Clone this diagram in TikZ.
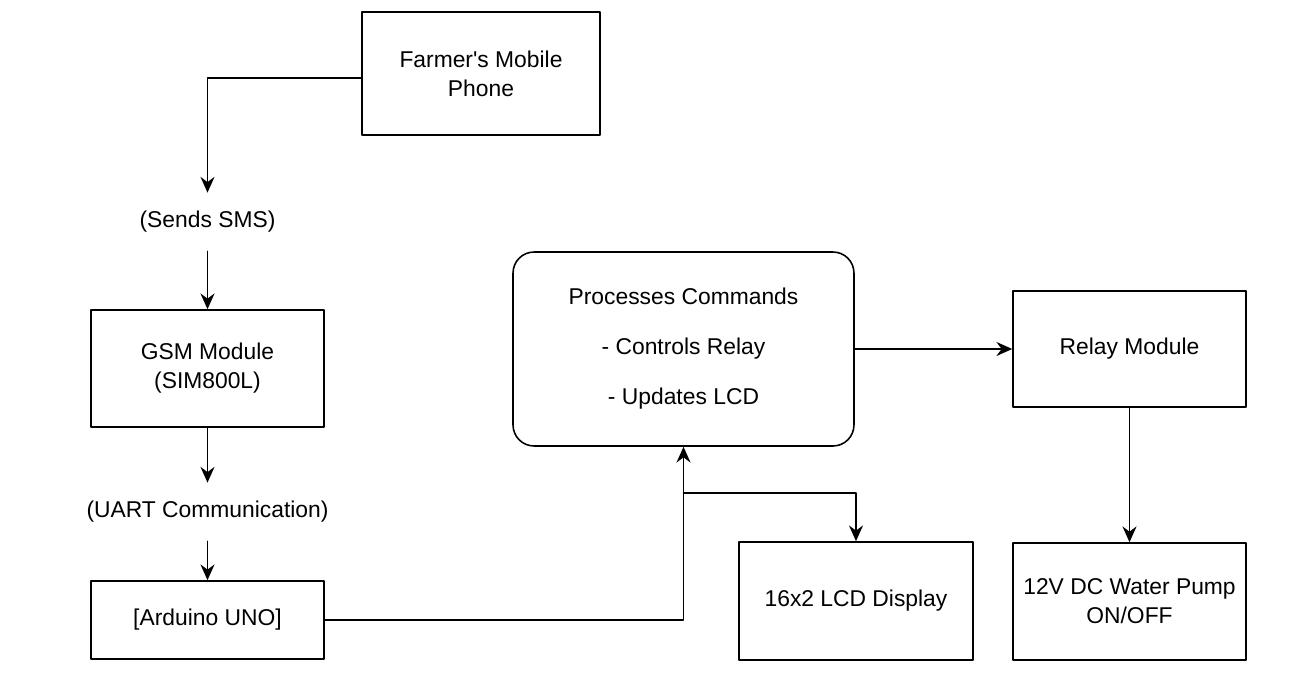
\documentclass[tikz,border=0pt]{standalone}
\usepackage{fontspec}
\setmainfont{Liberation Sans}
\usepackage{tikz}
\usetikzlibrary{arrows.meta,calc}
\begin{document}
\begin{tikzpicture}[line cap=round,line join=round,>={Stealth[length=9pt,width=8pt,inset=3pt]},x=0.02cm,y=-0.02cm,
        box/.style={draw,line width=0.9pt,fill=white,inner sep=0pt,align=center,font=\fontsize{13}{16.5}\selectfont},
        lbl/.style={inner sep=0pt,minimum height=1.16cm,font=\fontsize{13}{16.5}\selectfont},
        arr/.style={->,line width=0.9pt}]
    \useasboundingbox [fill=white] (0,0) rectangle (1312,686);
    \node [box,minimum width=4.76cm,minimum height=2.46cm] (farmer) at (481,73.5) {Farmer\textquotesingle s Mobile\\Phone};
    \node [lbl] (sms) at (207.5,222) {(Sends SMS)};
    \node [box,minimum width=4.66cm,minimum height=2.34cm] (gsm) at (207.5,368.5) {GSM Module\\(SIM800L)};
    \node [lbl] (uart) at (207.5,512) {(UART Communication)};
    \node [box,minimum width=4.66cm,minimum height=1.56cm] (arduino) at (207.5,620) {[Arduino UNO]};
    \node [box,rounded corners=0.42cm,minimum width=6.82cm,minimum height=3.88cm] (proc) at (683.5,349)
        {Processes Commands\\[12pt]- Controls Relay\\[12pt]- Updates LCD};
    \node [box,minimum width=4.66cm,minimum height=2.32cm] (relay) at (1129.5,349) {Relay Module};
    \node [box,minimum width=4.68cm,minimum height=2.36cm] (lcd) at (856,601) {16x2 LCD Display};
    \node [box,minimum width=4.66cm,minimum height=2.34cm] (pump) at (1129.5,601.5) {12V DC Water Pump\\ON/OFF};
    \coordinate (split) at (683.5,493);
    \draw [arr] ([yshift=-0.09cm]farmer.west) -| (sms.north);
    \draw [arr] (sms.south) -- (gsm.north);
    \draw [arr] (gsm.south) -- (uart.north);
    \draw [arr] (uart.south) -- (arduino.north);
    \draw [arr] (arduino.east) -| (split) -- (proc.south);
    \draw [arr] (split) -| (lcd.north);
    \draw [arr] (proc.east) -- (relay.west);
    \draw [arr] (relay.south) -- (pump.north);
\end{tikzpicture}
\end{document}
